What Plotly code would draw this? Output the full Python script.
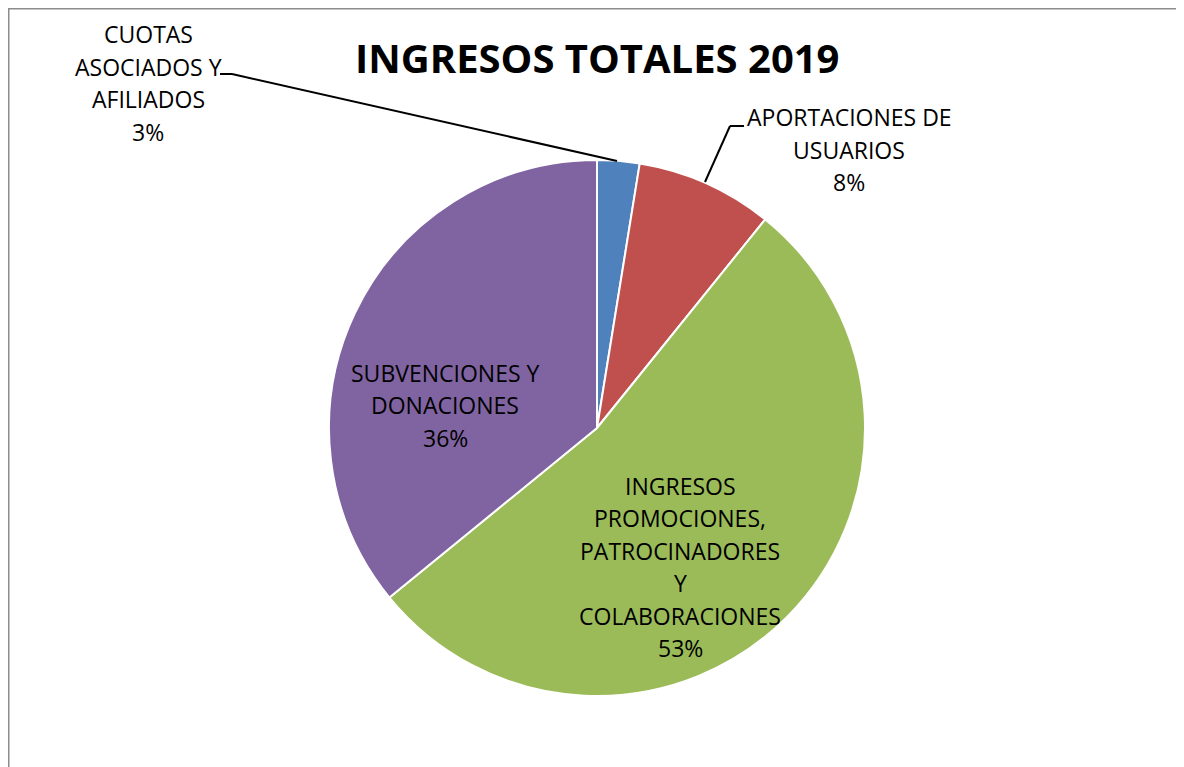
import plotly.graph_objects as go

W, H = 1184, 767
OFF = 8  # page body margin in the browser

categories = [
    "CUOTAS<br>ASOCIADOS Y<br>AFILIADOS",
    "APORTACIONES DE<br>USUARIOS",
    "INGRESOS<br>PROMOCIONES,<br>PATROCINADORES<br>Y<br>COLABORACIONES",
    "SUBVENCIONES Y<br>DONACIONES",
]
values = [2.55, 8.25, 53.3, 35.9]
colors = ["#4F81BD", "#C0504D", "#9BBB59", "#8064A2"]
title_text = "INGRESOS TOTALES 2019"

# label anchor centres in pixels (layout only)
label_pos = [(148, 83), (849, 150), (680, 567), (445, 405)]
line_gap = 32.5

def px(x):
    return (x - OFF) / W

def py(y):
    return 1 - (y - OFF) / H

fig = go.Figure()
fig.add_trace(go.Pie(
    labels=[c.replace("<br>", " ") for c in categories],
    values=values,
    marker=dict(colors=colors, line=dict(color="white", width=2)),
    sort=False,
    direction="clockwise",
    rotation=0,
    textinfo="none",
    hoverinfo="label+percent",
    domain=dict(x=[px(329), px(865)], y=[py(696), py(160)]),
    showlegend=False,
))

total = sum(values)
annotations = []
font = dict(family="Open Sans, Noto Sans, sans-serif", size=23, color="#000000")
for cat, v, (cx, cy) in zip(categories, values, label_pos):
    lines = cat.split("<br>") + [f"{round(v / total * 100)}%"]
    n = len(lines)
    for i, ln in enumerate(lines):
        yy = cy + (i - (n - 1) / 2) * line_gap
        annotations.append(dict(
            x=px(cx), y=py(yy), xref="paper", yref="paper",
            text=ln, showarrow=False, xanchor="center", yanchor="middle",
            font=font,
        ))

annotations.append(dict(
    x=px(597), y=py(57), xref="paper", yref="paper", text=f"<b>{title_text}</b>",
    showarrow=False, xanchor="center", yanchor="middle",
    font=dict(family="Open Sans, Noto Sans, sans-serif", size=40, color="#000000"),
))

shapes = [
    # chart frame
    dict(type="rect", xref="paper", yref="paper", x0=0, x1=1.2, y0=-0.2, y1=1,
         line=dict(color="#8C8C8C", width=3), fillcolor="rgba(0,0,0,0)", layer="below"),
    # leader line blue
    dict(type="line", xref="paper", yref="paper", x0=px(220), y0=py(74), x1=px(232), y1=py(74),
         line=dict(color="black", width=2)),
    dict(type="line", xref="paper", yref="paper", x0=px(232), y0=py(74), x1=px(617), y1=py(161),
         line=dict(color="black", width=2)),
    # leader line red
    dict(type="line", xref="paper", yref="paper", x0=px(744), y0=py(126), x1=px(730), y1=py(126),
         line=dict(color="black", width=2)),
    dict(type="line", xref="paper", yref="paper", x0=px(730), y0=py(126), x1=px(705), y1=py(182),
         line=dict(color="black", width=2)),
]

fig.update_layout(
    width=W, height=H,
    margin=dict(l=0, r=0, t=0, b=0),
    paper_bgcolor="white", plot_bgcolor="white",
    annotations=annotations,
    shapes=shapes,
)

fig.write_html("out.html")
